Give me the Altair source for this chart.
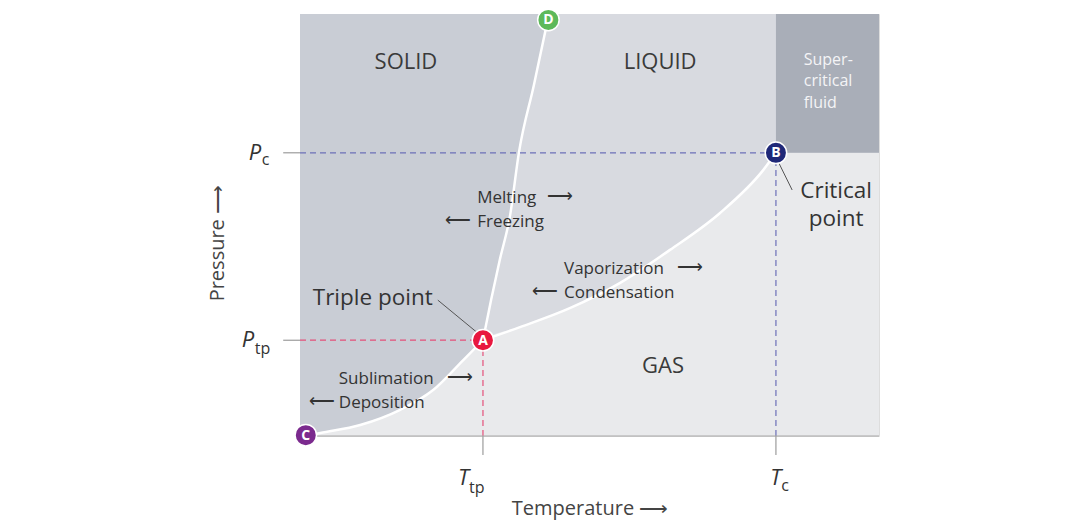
import altair as alt
import pandas as pd

# ---- data (temperature T and pressure P in arbitrary units, 0-100) ----
sub_T = [1.0, 3.5, 10.4, 17.3, 23.0, 28.2, 31.6]
sub_P = [0.0, 0.7, 2.6, 6.2, 10.9, 18.0, 22.7]
melt_T = [31.6, 33.0, 34.5, 36.3, 37.8, 40.4, 43.0]
melt_P = [22.7, 32.2, 41.7, 52.4, 67.1, 83.2, 100.0]
vap_T = [31.6, 38.0, 46.6, 55.3, 63.9, 72.5, 80.0, 82.2]
vap_P = [22.7, 25.8, 30.3, 36.3, 44.1, 52.8, 63.0, 67.1]

T_tp, P_tp = 31.6, 22.7
T_c, P_c = 82.2, 67.1
T_max, P_max = 100.0, 100.0

pt_labels = ["C", "A", "B", "D"]
pt_T = [1.0, T_tp, T_c, 42.9]
pt_P = [0.2, P_tp, P_c, 98.6]
pt_colors = ["#7b2a8e", "#e8173f", "#1f2878", "#5db95a"]

FONT = "Open Sans"
xs = alt.Scale(domain=[0, T_max], nice=False, zero=False)
ys = alt.Scale(domain=[0, P_max], nice=False, zero=False)


def X(f="T"):
    return alt.X(f"{f}:Q", scale=xs, axis=None)


def Y(f="P"):
    return alt.Y(f"{f}:Q", scale=ys, axis=None)


# ---- background regions ----
regions = pd.DataFrame({
    "T": [0, T_c, T_c], "T2": [T_max, T_max, T_max],
    "P": [0, 0, P_c], "P2": [P_max, P_c, P_max],
    "fill": ["#d8dae0", "#e9eaec", "#a9aeb8"],
})
rects = alt.Chart(regions).mark_rect().encode(
    x=X(), x2="T2", y=Y(), y2="P2", color=alt.Color("fill:N", scale=None)
)

gas_df = pd.DataFrame({"T": sub_T + vap_T[1:], "P": sub_P + vap_P[1:], "z": 0})
gas = alt.Chart(gas_df).mark_area(interpolate="monotone", color="#e9eaec").encode(
    x=X(), y=Y(), y2="z"
)

solid_df = pd.DataFrame({"T": sub_T + melt_T[1:], "P": sub_P + melt_P[1:], "z": 0})
solid = alt.Chart(solid_df).mark_area(
    interpolate="monotone", orient="horizontal", color="#c9cdd5"
).encode(y=Y(), x=X(), x2="z")

# ---- phase boundary curves ----
curves_df = pd.concat([
    pd.DataFrame({"T": sub_T, "P": sub_P, "c": "sub"}),
    pd.DataFrame({"T": melt_T, "P": melt_P, "c": "melt"}),
    pd.DataFrame({"T": vap_T, "P": vap_P, "c": "vap"}),
])
curves = alt.Chart(curves_df).mark_line(
    interpolate="monotone", color="white", strokeWidth=2.5
).encode(x=X(), y=Y(), detail="c:N")

# ---- dashed guide lines ----
dash_df = pd.DataFrame({
    "T": [0, T_tp, 0, T_c], "T2": [T_tp, T_tp, T_c, T_c],
    "P": [P_tp, 0, P_c, 0], "P2": [P_tp, P_tp, P_c, P_c],
    "col": ["#e4507a", "#e4507a", "#6c70b8", "#6c70b8"],
})
dashes = alt.Chart(dash_df).mark_rule(strokeDash=[6, 4], strokeWidth=1.2).encode(
    x=X(), x2="T2", y=Y(), y2="P2", color=alt.Color("col:N", scale=None)
)

# ---- tick marks, bottom border, leader lines ----
tick_df = pd.DataFrame({
    "T": [-2.9, -2.9, T_tp, T_c, 0, 23.8, 82.7],
    "T2": [0, 0, T_tp, T_c, T_max, 30.7, 85.0],
    "P": [P_tp, P_c, -4.5, -4.5, 0, 32.2, 64.7],
    "P2": [P_tp, P_c, 0, 0, 0, 24.4, 58.3],
    "col": ["#888888", "#888888", "#888888", "#888888", "#a8a8a8", "#555555", "#555555"],
})
ticks = alt.Chart(tick_df).mark_rule(strokeWidth=1).encode(
    x=X(), x2="T2", y=Y(), y2="P2", color=alt.Color("col:N", scale=None)
)

# ---- labelled points ----
pts_df = pd.DataFrame({"T": pt_T, "P": pt_P, "lab": pt_labels, "col": pt_colors})
pts = alt.Chart(pts_df).mark_point(
    filled=True, size=460, stroke="white", strokeWidth=1.5, opacity=1
).encode(x=X(), y=Y(), fill=alt.Color("col:N", scale=None))
pts_txt = alt.Chart(pts_df).mark_text(
    font=FONT, fontSize=14, fontWeight="bold", color="white", baseline="middle", dy=0.5
).encode(x=X(), y=Y(), text="lab:N")


def texts(rows, size, color="#3a3a3a", align="center", style="normal", angle=0, weight="normal"):
    df = pd.DataFrame(rows, columns=["text", "T", "P"])
    kw = dict(font=FONT, fontSize=size, color=color, align=align, baseline="middle",
              fontStyle=style, fontWeight=weight)
    if angle:
        kw["angle"] = angle
    return alt.Chart(df).mark_text(**kw).encode(x=X(), y=Y(), text="text:N")


region_txt = texts([["SOLID", 18.3, 88.6], ["LIQUID", 62.2, 88.6], ["GAS", 62.7, 16.6]], 22)
super_txt = texts([["Super-", 87.0, 89.1], ["critical", 87.0, 84.1], ["fluid", 87.0, 78.9]],
                  16, color="#f4f4f6", align="left")
proc_txt = texts([
    ["Melting", 30.6, 56.4], ["Freezing", 30.6, 50.7],
    ["Vaporization", 45.6, 39.6], ["Condensation", 45.6, 33.9],
    ["Sublimation", 6.7, 13.5], ["Deposition", 6.7, 7.8],
], 17, color="#333333", align="left")
arrows_txt = texts([
    ["⟶", 44.9, 56.6], ["⟵", 27.3, 50.9],
    ["⟶", 67.4, 39.8], ["⟵", 42.3, 34.1],
    ["⟶", 27.6, 13.7], ["⟵", 3.8, 8.0],
], 18, color="#333333")
triple_txt = texts([["Triple point", 2.2, 32.7]], 22.5, color="#333333", align="left")
crit_txt = texts([["Critical", 92.6, 58.1], ["point", 92.6, 51.4]], 22.5, color="#333333")

tick_main = texts([["P", -6.7, 67.1], ["P", -7.9, 22.7], ["T", 29.2, -10.0], ["T", 83.1, -10.0]],
                  22, color="#333333", style="italic", align="right")
tick_sub = texts([["c", -6.6, 65.4], ["tp", -7.8, 20.6], ["tp", 29.2, -12.3], ["c", 83.1, -11.8]],
                 16, color="#333333", align="left")

ytitle = texts([["Pressure  ⟶", -14.2, 45.7]], 20, color="#444444", angle=270)
xtitle = texts([["Temperature  ⟶", 50.1, -17.3]], 20, color="#444444")

chart = alt.layer(
    rects, gas, solid, curves, dashes, ticks, pts, pts_txt,
    region_txt, super_txt, proc_txt, arrows_txt, triple_txt, crit_txt,
    tick_main, tick_sub, ytitle, xtitle,
).properties(
    width=579, height=422,
    autosize=alt.AutoSizeParams(type="none"),
    padding={"left": 292, "top": 6, "right": 190, "bottom": 86},
).configure_view(stroke=None).configure(background="white")

chart.save("out.html", embed_options={"renderer": "svg", "actions": False})
